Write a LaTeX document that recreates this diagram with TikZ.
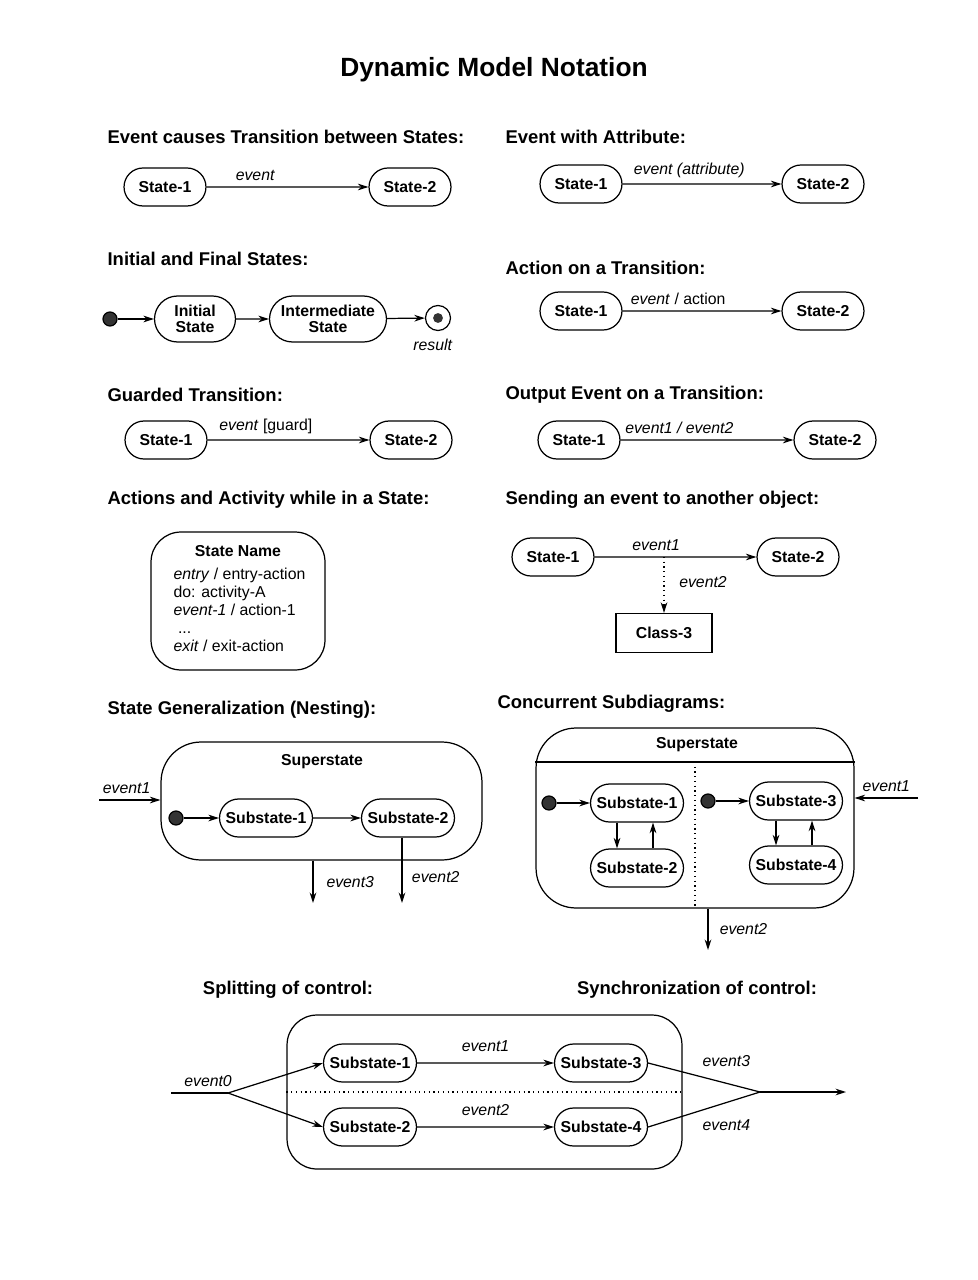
\documentclass[tikz,border=0pt]{standalone}
\usepackage{fontspec}
\setmainfont{Liberation Sans}
\usetikzlibrary{arrows.meta,positioning,shapes.misc}

\begin{document}
\begin{tikzpicture}[->,>={Stealth[length=6pt,width=3.8pt]},auto,x=0.02cm,y=-0.02cm,line width=0.7pt,
                    font=\fontsize{9}{10.5}\selectfont]
  \tikzstyle{st}=[rounded rectangle,draw,font=\bfseries\fontsize{9}{9.5}\selectfont,
                  minimum width=1.78cm,minimum height=0.76cm,inner sep=2pt]
  \tikzstyle{sub}=[st,minimum width=2.0cm]
  \tikzstyle{head}=[anchor=west,inner sep=0pt,font=\bfseries\fontsize{10.5}{12}\selectfont]
  \tikzstyle{bold}=[font=\bfseries\fontsize{9}{10.5}\selectfont]
  \tikzstyle{init}=[circle,fill=black!80,draw,minimum size=0.28cm,inner sep=0pt]
  \tikzstyle{final}=[circle,draw,minimum size=0.5cm,inner sep=0pt,
                     path picture={\fill[black!80] (path picture bounding box.center) circle (2.8pt);}]
  \tikzstyle{ev}=[font=\itshape\fontsize{9}{10.5}\selectfont]

  \useasboundingbox (0,0) rectangle (977,1280);

  \node[font=\bfseries\fontsize{15}{18}\selectfont] (title) at (494,70) {Dynamic Model Notation};

  \node[head] (h1) at (107,137) {Event causes Transition between States:};
  \node[st] (a1) at (165,187) {State-1};
  \node[st] (a2) at (410,187) {State-2};
  \path (a1) edge node[ev,pos=0.3] {event} (a2);

  \node[head] (h2) at (505,137) {Event with Attribute:};
  \node[st] (b1) at (581,184) {State-1};
  \node[st] (b2) at (823,184) {State-2};
  \path (b1) edge node[ev,pos=0.42] {event (attribute)} (b2);

  \node[head] (h3) at (107,259) {Initial and Final States:};
  \node[init] (c0) at (110,319) {};
  \node[st,minimum width=1.76cm,minimum height=0.92cm,align=center] (c1) at (195,319) {Initial\\State};
  \node[st,minimum width=2.48cm,minimum height=0.92cm,align=center] (c2) at (328,319) {Intermediate\\State};
  \node[final] (c3) at (438,318) {};
  \node[ev,below=1pt of c3,xshift=-3pt] (c4) {result};
  \path (c0) edge (c1)
        (c1) edge (c2)
        (c2) edge (c3);

  \node[head] (h4) at (505,268) {Action on a Transition:};
  \node[st] (d1) at (581,311) {State-1};
  \node[st] (d2) at (823,311) {State-2};
  \path (d1) edge node[pos=0.35] {\textit{event} / action} (d2);

  \node[head] (h5) at (107,395) {Guarded Transition:};
  \node[st] (e1) at (166,440) {State-1};
  \node[st] (e2) at (411,440) {State-2};
  \path (e1) edge node[pos=0.36] {\textit{event} [guard]} (e2);

  \node[head] (h6) at (505,395) {Output Event on a Transition:};
  \node[st] (f1) at (579,440) {State-1};
  \node[st] (f2) at (835,440) {State-2};
  \path (f1) edge node[ev,pos=0.34] {event1 / event2} (f2);

  \node[head] (h7) at (107,500) {Actions and Activity while in a State:};
  \node[draw,rounded corners=0.6cm,minimum width=3.48cm,minimum height=2.76cm] (g0) at (238,601) {};
  \node[bold] (g1) at (238,551) {State Name};
  \node[anchor=north west,align=left,inner sep=0pt,font=\fontsize{9}{10.3}\selectfont] (g2) at (173,567)
    {\textit{entry} / entry-action\\ do: activity-A\\ \textit{event-1} / action-1\\ \ ...\\ \textit{exit} / exit-action};

  \node[head] (h8) at (505,500) {Sending an event to another object:};
  \node[st] (k1) at (553,557) {State-1};
  \node[st] (k2) at (798,557) {State-2};
  \node[draw,rectangle,minimum width=1.92cm,minimum height=0.78cm,bold] (k3) at (664,633) {Class-3};
  \path (k1) edge node[ev,pos=0.38] {event1} (k2);
  \draw[dotted] (k3.north |- k1.east) -- node[ev,right,pos=0.45,xshift=5pt] {event2} (k3.north);

  \node[head] (h9) at (107,710) {State Generalization (Nesting):};
  \node[draw,rounded corners=0.8cm,minimum width=6.42cm,minimum height=2.36cm] (n0) at (321.5,801) {};
  \node[bold] (n1) at (322,762) {Superstate};
  \node[init] (n2) at (176,818) {};
  \node[sub] (n3) at (266,818) {Substate-1};
  \node[sub] (n4) at (408,818) {Substate-2};
  \coordinate (n5) at (99,800);
  \coordinate (n6) at (313,903);
  \coordinate (n7) at (402,903);
  \path (n2) edge (n3)
        (n3) edge (n4);
  \draw (n5) -- node[ev,pos=0.45] {event1} (n5 -| n0.west);
  \draw (n6 |- n0.south) -- node[ev,right,xshift=4pt] {event3} (n6);
  \draw (n7 |- n4.south) -- node[ev,right,pos=0.6,xshift=2pt] {event2} (n7);

  \node[head] (h10) at (497,704) {Concurrent Subdiagrams:};
  \node[draw,rounded corners=0.8cm,minimum width=6.36cm,minimum height=3.6cm] (m0) at (695,818) {};
  \node[bold] (m1) at (697,745) {Superstate};
  \coordinate (m2) at (695,762);
  \draw[-] (m0.west |- m2) -- (m0.east |- m2);
  \draw[-,dotted] (m2) -- (m2 |- m0.south);
  \node[init] (m3) at (549,803) {};
  \node[sub] (m4) at (637,803) {Substate-1};
  \node[sub] (m5) at (637,868) {Substate-2};
  \node[init] (m6) at (708,801) {};
  \node[sub] (m7) at (796,801) {Substate-3};
  \node[sub] (m8) at (796,865) {Substate-4};
  \path (m3) edge (m4)
        (m6) edge (m7);
  \draw ([xshift=-0.4cm]m4.south) -- ([xshift=-0.4cm]m5.north);
  \draw ([xshift=0.32cm]m5.north) -- ([xshift=0.32cm]m4.south);
  \draw ([xshift=-0.4cm]m7.south) -- ([xshift=-0.4cm]m8.north);
  \draw ([xshift=0.32cm]m8.north) -- ([xshift=0.32cm]m7.south);
  \coordinate (m9) at (918,798);
  \coordinate (m10) at (708,950);
  \draw (m9) -- node[ev,above] {event1} (m9 -| m0.east);
  \draw (m10 |- m0.south) -- node[ev,right,xshift=3pt] {event2} (m10);

  \node[head,anchor=center] (h11) at (288,990) {Splitting of control:};
  \node[head,anchor=center] (h12) at (697,990) {Synchronization of control:};
  \node[draw,rounded corners=0.6cm,minimum width=7.9cm,minimum height=3.08cm] (p0) at (484.5,1092) {};
  \draw[-,dotted] (p0.west) -- (p0.east);
  \node[sub] (p1) at (370,1063) {Substate-1};
  \node[sub] (p2) at (370,1127) {Substate-2};
  \node[sub] (p3) at (601,1063) {Substate-3};
  \node[sub] (p4) at (601,1127) {Substate-4};
  \coordinate (p5) at (171,1093);
  \coordinate (p6) at (228,1093);
  \coordinate (p7) at (760,1092);
  \coordinate (p8) at (846,1092);
  \draw[-] (p5) -- node[ev,pos=0.65] {event0} (p6);
  \path (p6) edge (p1.west)
             edge (p2.west);
  \path (p1) edge node[ev,yshift=3pt] {event1} (p3)
        (p2) edge node[ev,yshift=3pt] {event2} (p4);
  \draw[-] (p3.east) -- node[ev,pos=0.7,above=6pt] {event3} (p7);
  \draw[-] (p4.east) -- node[ev,pos=0.7,below=6pt] {event4} (p7);
  \draw (p7) -- (p8);
\end{tikzpicture}
\end{document}
